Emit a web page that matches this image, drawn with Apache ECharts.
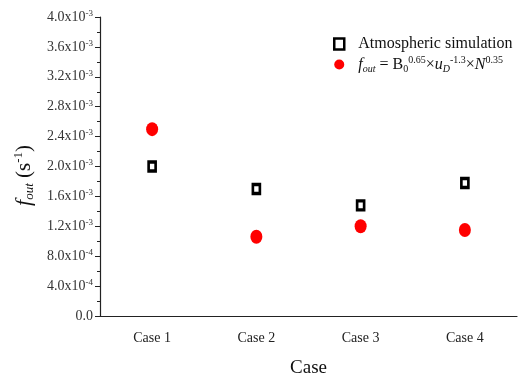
<!DOCTYPE html>
<html>
<head>
<meta charset="utf-8">
<script src="https://cdn.jsdelivr.net/npm/echarts@6/dist/echarts.min.js"></script>
<style>
  html, body { margin: 0; padding: 0; background: #fff; }
  #chart { width: 521px; height: 376px; }
</style>
</head>
<body>
<div id="chart"></div>
<script>
// data
const cases = ['Case 1', 'Case 2', 'Case 3', 'Case 4'];
const atmospheric = [2.0e-3, 1.7e-3, 1.48e-3, 1.78e-3];
const fitted = [2.5e-3, 1.06e-3, 1.2e-3, 1.15e-3];
const yMantissa = ['0.0', '4.0', '8.0', '1.2', '1.6', '2.0', '2.4', '2.8', '3.2', '3.6', '4.0'];
const yExponent = ['', '-4', '-4', '-3', '-3', '-3', '-3', '-3', '-3', '-3', '-3'];

const serif = '"Liberation Serif", "Times New Roman", serif';

const chart = echarts.init(document.getElementById('chart'));

chart.setOption({
  animation: false,
  backgroundColor: '#fff',
  grid: { left: 100, right: 4, top: 17, bottom: 60, outerBoundsMode: 'none' },
  legend: {
    orient: 'vertical',
    left: 328,
    top: 31,
    itemGap: 3,
    itemWidth: 10,
    itemHeight: 11,
    textStyle: {
      fontFamily: serif, fontSize: 16, color: '#111', padding: [0, 0, 0, 9],
      rich: {
        it: { fontFamily: serif, fontSize: 16, fontStyle: 'italic', color: '#111' },
        sub: { fontFamily: serif, fontSize: 10, fontStyle: 'italic', color: '#111', padding: [9, 0, 0, 0] },
        sub0: { fontFamily: serif, fontSize: 10, color: '#111', padding: [9, 0, 0, 0] },
        sup: { fontFamily: serif, fontSize: 10, color: '#111', padding: [0, 0, 9, 0] },
        n: { fontFamily: serif, fontSize: 16, color: '#111' }
      }
    },
    formatter: function (name) {
      if (name === 'fit') {
        return '{it|f}{sub|out}{n| = B}{sub0|0}{sup|0.65}{n|×}{it|u}{sub|D}{sup|-1.3}{n|×}{it|N}{sup|0.35}';
      }
      return name;
    },
    data: [
      { name: 'Atmospheric simulation', itemStyle: { color: '#fff', borderColor: '#000', borderWidth: 2.5 } },
      { name: 'fit' }
    ]
  },
  xAxis: {
    type: 'category',
    data: cases,
    boundaryGap: true,
    name: 'Case',
    nameLocation: 'middle',
    nameGap: 43,
    nameTextStyle: { fontFamily: serif, fontSize: 19, color: '#111' },
    axisLine: { lineStyle: { color: '#222', width: 1.2 } },
    axisTick: { alignWithLabel: true, length: 5, lineStyle: { color: '#222' } },
    axisLabel: { fontFamily: serif, fontSize: 14, color: '#222', margin: 15 },
    splitLine: { show: false }
  },
  yAxis: {
    type: 'value',
    min: 0,
    max: 4.0e-3,
    interval: 4.0e-4,
    name: '{it|f}{sub|out}{n| (s}{sup|-1}{n|)}',
    nameLocation: 'middle',
    nameRotate: 90,
    nameGap: 64,
    nameTextStyle: {
      fontFamily: serif, fontSize: 21, color: '#111', padding: [0, 18, 0, 0],
      rich: {
        it: { fontFamily: serif, fontSize: 22, fontStyle: 'italic', color: '#111' },
        sub: { fontFamily: serif, fontSize: 13, fontStyle: 'italic', color: '#111', padding: [11, 0, 0, 0] },
        sup: { fontFamily: serif, fontSize: 13, color: '#111', padding: [0, 0, 11, 0] },
        n: { fontFamily: serif, fontSize: 21, color: '#111' }
      }
    },
    axisLine: { show: true, lineStyle: { color: '#222', width: 1.2 } },
    axisTick: { show: true, length: 5, lineStyle: { color: '#222' } },
    minorTick: { show: true, splitNumber: 2, length: 3, lineStyle: { color: '#222' } },
    splitLine: { show: false },
    axisLabel: {
      fontFamily: serif, fontSize: 14, color: '#333', margin: 7,
      rich: {
        sup: { fontFamily: serif, fontSize: 9, color: '#333', padding: [0, 0, 7, 0] },
        b: { fontFamily: serif, fontSize: 14, color: '#333' }
      },
      formatter: function (v) {
        const idx = Math.round(v / 4.0e-4);
        if (!yExponent[idx]) return '{b|' + yMantissa[idx] + '}';
        return '{b|' + yMantissa[idx] + 'x10}{sup|' + yExponent[idx] + '}';
      }
    }
  },
  series: [
    {
      name: 'Atmospheric simulation',
      type: 'scatter',
      data: atmospheric,
      symbol: 'rect',
      symbolSize: [7, 9],
      itemStyle: { color: '#fff', borderColor: '#000', borderWidth: 3, opacity: 1 }
    },
    {
      name: 'fit',
      type: 'scatter',
      data: fitted,
      symbol: 'circle',
      symbolSize: [12, 14],
      itemStyle: { color: '#ff0000', opacity: 1 }
    }
  ]
});
</script>
</body>
</html>
